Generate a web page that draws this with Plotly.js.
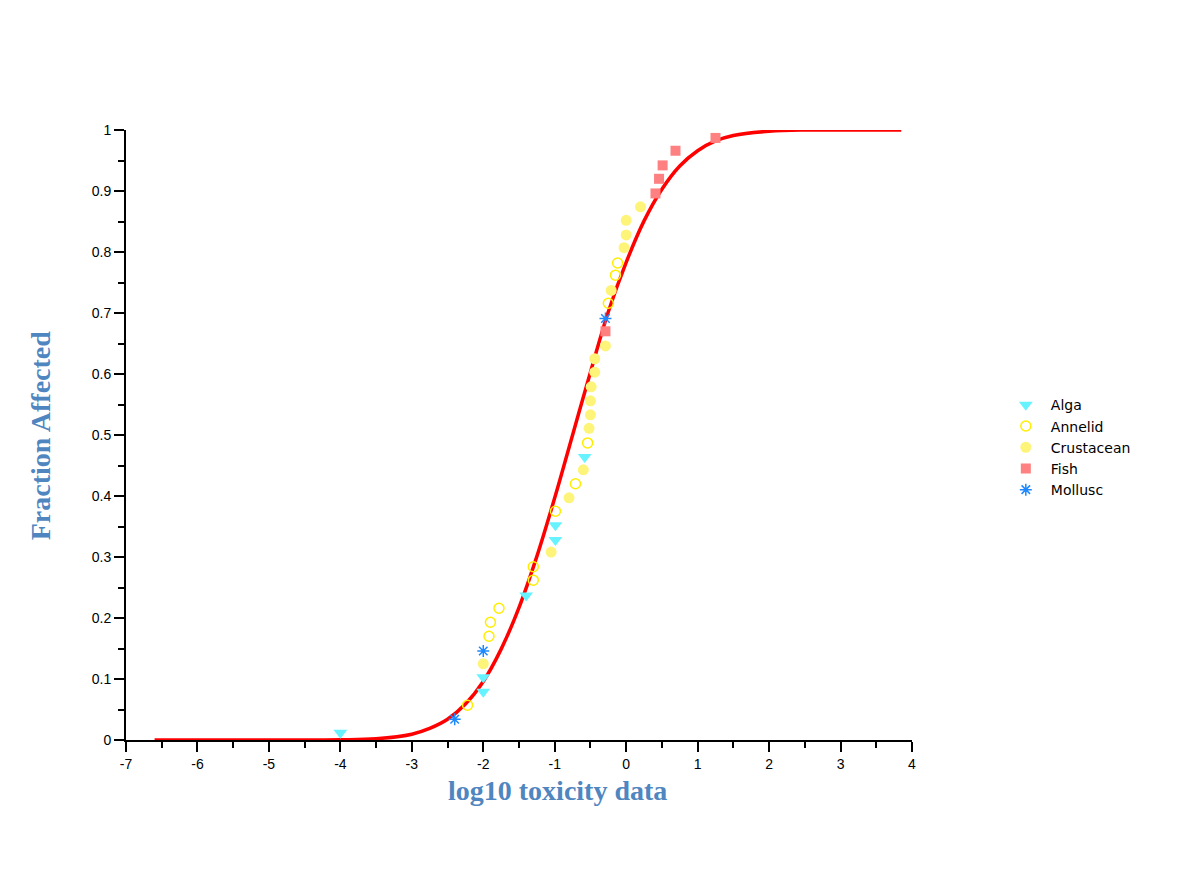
<!DOCTYPE html>
<html>
<head>
<meta charset="utf-8">
<script src="https://cdn.plot.ly/plotly-3.0.1.min.js"></script>
<style>html,body{margin:0;padding:0;background:#fff;}#chart{width:1178px;height:882px;}</style>
</head>
<body>
<div id="chart"></div>
<script>
// Fitted curve
const curveX = [-6.6, -5, -4, -3.5, -3, -2.75, -2.5, -2.25, -2, -1.75, -1.5, -1.25, -1, -0.75, -0.5, -0.25, 0, 0.25, 0.5, 0.75, 1, 1.25, 1.5, 2, 2.5, 3, 3.85];
const curveY = [0, 0, 0.0003, 0.002, 0.0095, 0.019, 0.034, 0.059, 0.096, 0.149, 0.217, 0.301, 0.397, 0.5, 0.603, 0.702, 0.783, 0.851, 0.903, 0.941, 0.966, 0.982, 0.991, 0.998, 1.0, 1.0, 1.0];

// Species data (log10 toxicity, fraction affected)
const algaX = [-4.00, -2.00, -2.00, -1.40, -0.99, -0.99, -0.58];
const algaY = [0.012, 0.079, 0.103, 0.237, 0.328, 0.352, 0.464];

const annelidX = [-2.22, -1.92, -1.90, -1.78, -1.30, -1.30, -0.99, -0.71, -0.54, -0.25, -0.15, -0.12];
const annelidY = [0.057, 0.170, 0.193, 0.216, 0.262, 0.284, 0.375, 0.420, 0.487, 0.716, 0.762, 0.782];

const crustX = [-2.00, -1.05, -0.80, -0.60, -0.52, -0.50, -0.50, -0.49, -0.44, -0.44, -0.29, -0.21, -0.03, 0.00, 0.00, 0.20];
const crustY = [0.125, 0.308, 0.397, 0.443, 0.511, 0.533, 0.556, 0.579, 0.603, 0.625, 0.646, 0.737, 0.807, 0.828, 0.852, 0.874];

const fishX = [-0.29, 0.41, 0.46, 0.51, 0.69, 1.25];
const fishY = [0.670, 0.896, 0.920, 0.942, 0.966, 0.987];

const molluscX = [-2.40, -2.00, -0.29];
const molluscY = [0.034, 0.146, 0.691];

// Axis ticks
const xTickVals = [-7, -6, -5, -4, -3, -2, -1, 0, 1, 2, 3, 4];
const xTickText = ["-7", "-6", "-5", "-4", "-3", "-2", "-1", "0", "1", "2", "3", "4"];

const xTitle = "log10 toxicity data";
const yTitle = "Fraction Affected";

const traces = [
  {x: curveX, y: curveY, mode: 'lines', line: {color: '#ff0000', width: 3.5, shape: 'spline'}, showlegend: false, hoverinfo: 'skip'},
  {x: algaX, y: algaY, mode: 'markers', name: 'Alga', marker: {symbol: 'triangle-down', size: 12, color: '#66f2ff'}},
  {x: annelidX, y: annelidY, mode: 'markers', name: 'Annelid', marker: {symbol: 'circle-open', size: 10, color: '#ffee00', line: {color: '#ffee00', width: 1.5}}},
  {x: crustX, y: crustY, mode: 'markers', name: 'Crustacean', marker: {symbol: 'circle', size: 11, color: '#fff47a'}},
  {x: fishX, y: fishY, mode: 'markers', name: 'Fish', marker: {symbol: 'square', size: 10, color: '#ff8080'}},
  {x: molluscX, y: molluscY, mode: 'markers', name: 'Mollusc', marker: {symbol: 'asterisk-open', size: 10, color: '#1e88ff', line: {color: '#1e88ff', width: 1.5}}}
];

const layout = {
  width: 1178, height: 882,
  margin: {l: 126, r: 266, t: 130, b: 142},
  paper_bgcolor: '#ffffff', plot_bgcolor: '#ffffff',
  font: {family: 'Liberation Sans, Arial, sans-serif', size: 14, color: '#000'},
  xaxis: {
    range: [-7, 4], tickmode: 'array', tickvals: xTickVals, ticktext: xTickText,
    showgrid: false, zeroline: false,
    showline: true, linecolor: '#000', linewidth: 2,
    ticks: 'outside', ticklen: 10, tickwidth: 2, tickcolor: '#000',
    minor: {dtick: 0.5, tick0: 0, ticks: 'outside', ticklen: 6, tickwidth: 2, tickcolor: '#000'},
    tickfont: {size: 14}
  },
  yaxis: {
    range: [0, 1], dtick: 0.1, tick0: 0, showgrid: false, zeroline: false,
    showline: true, linecolor: '#000', linewidth: 2,
    ticks: 'outside', ticklen: 10, tickwidth: 2, tickcolor: '#000',
    minor: {dtick: 0.05, ticks: 'outside', ticklen: 6, tickwidth: 2, tickcolor: '#000'},
    tickfont: {size: 14}
  },
  legend: {x: 1.113, y: 0.575, xanchor: 'left', yanchor: 'top',
    font: {family: 'DejaVu Sans, sans-serif', size: 14}, bgcolor: 'rgba(0,0,0,0)', tracegroupgap: 0, itemwidth: 40},
  annotations: [
    {text: xTitle, xref: 'paper', yref: 'paper', x: 0.5496, y: -0.082, xanchor: 'center', yanchor: 'middle', showarrow: false,
     font: {family: 'Liberation Serif, Times New Roman, serif', size: 28, color: '#4f86bf', weight: 'bold'}},
    {text: yTitle, xref: 'paper', yref: 'paper', x: -0.109, y: 0.5, xanchor: 'center', yanchor: 'middle', showarrow: false, textangle: -90,
     font: {family: 'Liberation Serif, Times New Roman, serif', size: 28, color: '#4f86bf', weight: 'bold'}}
  ]
};

Plotly.newPlot('chart', traces, layout, {displayModeBar: false, staticPlot: true});
</script>
</body>
</html>
